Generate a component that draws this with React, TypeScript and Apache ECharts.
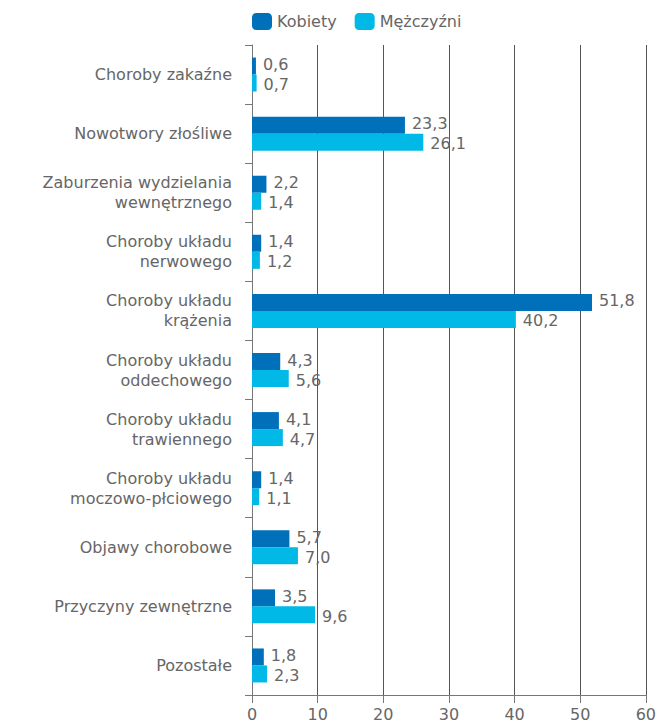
import React, { useEffect, useRef } from "react";
import * as echarts from "echarts";

const categories = [
  "Choroby zakaźne",
  "Nowotwory złośliwe",
  "Zaburzenia wydzielania\nwewnętrznego",
  "Choroby układu\nnerwowego",
  "Choroby układu\nkrążenia",
  "Choroby układu\noddechowego",
  "Choroby układu\ntrawiennego",
  "Choroby układu\nmoczowo-płciowego",
  "Objawy chorobowe",
  "Przyczyny zewnętrzne",
  "Pozostałe",
];
const kobiety = [0.6, 23.3, 2.2, 1.4, 51.8, 4.3, 4.1, 1.4, 5.7, 3.5, 1.8];
const mezczyzni = [0.7, 26.1, 1.4, 1.2, 40.2, 5.6, 4.7, 1.1, 7.0, 9.6, 2.3];
const seriesNames = ["Kobiety", "Mężczyźni"];
const xTicks = { min: 0, max: 60, interval: 10 };

const FONT = "DejaVu Sans";
const GRAY = "#666666";

export default function App() {
  const ref = useRef<HTMLDivElement>(null);
  useEffect(() => {
    if (!ref.current) return;
    const chart = echarts.init(ref.current, null, { renderer: "svg" });
    const fmt = (p: any) => Number(p.value).toFixed(1).replace(".", ",");
    const valueLabel = (dy: number) => ({
      show: true,
      position: "right",
      distance: 7,
      offset: [0, dy],
      color: GRAY,
      fontSize: 16,
      lineHeight: 15,
      fontFamily: FONT,
      formatter: fmt,
    });
    chart.setOption({
      animation: false,
      textStyle: { fontFamily: FONT },
      legend: {
        left: 247,
        top: 8,
        itemWidth: 20,
        itemHeight: 17,
        itemGap: 18,
        textStyle: { color: GRAY, fontSize: 16, fontFamily: FONT },
        data: seriesNames,
      },
      grid: { left: 252, right: 13, top: 45, bottom: 30, containLabel: false },
      xAxis: {
        type: "value",
        min: xTicks.min,
        max: xTicks.max,
        interval: xTicks.interval,
        axisLine: { show: true, lineStyle: { color: "#777", width: 1 } },
        axisTick: { show: true, length: 8, lineStyle: { color: "#777" } },
        axisLabel: { color: GRAY, fontSize: 16, margin: 11, fontFamily: FONT },
        splitLine: { show: true, lineStyle: { color: "#555", width: 1 } },
      },
      yAxis: {
        type: "category",
        inverse: true,
        data: categories,
        axisLine: { show: true, lineStyle: { color: "#777" } },
        axisTick: { show: true, length: 7, lineStyle: { color: "#777" } },
        axisLabel: {
          color: GRAY,
          fontSize: 16,
          lineHeight: 20,
          margin: 20,
          fontFamily: FONT,
        },
      },
      series: [
        {
          name: seriesNames[0],
          type: "bar",
          data: kobiety,
          barWidth: 17,
          barGap: "0%",
          itemStyle: { color: "#0070BA" },
          label: valueLabel(-1.5),
        },
        {
          name: seriesNames[1],
          type: "bar",
          data: mezczyzni,
          barWidth: 17,
          barGap: "0%",
          itemStyle: { color: "#00B9E6" },
          label: valueLabel(1.5),
        },
      ],
    });
    return () => chart.dispose();
  }, []);
  return <div ref={ref} style={{ width: 659, height: 725, position: "absolute", left: 0, top: 0 }} />;
}
